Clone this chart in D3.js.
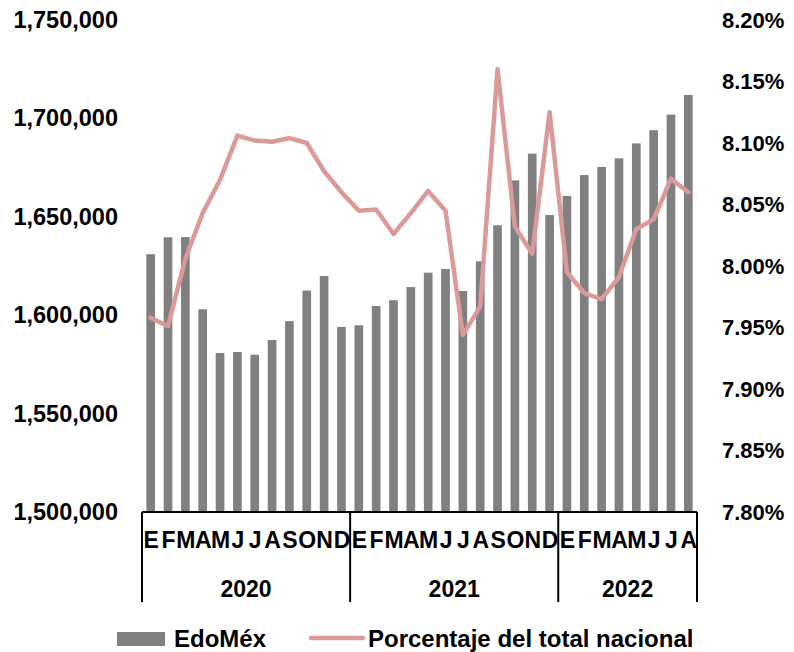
<!DOCTYPE html>
<html lang="es">
<head>
<meta charset="UTF-8">
<title>EdoMéx</title>
<style>
  * { margin: 0; padding: 0; }
  body { background: #fff; }
  svg text { font-family: "Liberation Sans", Arial, sans-serif; font-weight: bold; fill: #000; }
</style>
<script src="https://cdn.jsdelivr.net/npm/d3@7/dist/d3.min.js"></script>
</head>
<body>
<div id="chart"></div>
<script>
// data
var years = ['2020', '2021', '2022'];
var monthLetters = ['E', 'F', 'M', 'A', 'M', 'J', 'J', 'A', 'S', 'O', 'N', 'D'];
var monthsPerYear = [12, 12, 8];

var edomex = [
  1631000, 1639600, 1639700, 1603000, 1580800, 1581300, 1579900, 1587400, 1597000, 1612500, 1619900, 1594000,
  1594900, 1604700, 1607600, 1614300, 1621600, 1623500, 1612300, 1627400, 1645700, 1668500, 1682100, 1650900,
  1660600, 1671200, 1675300, 1679700, 1687300, 1694000, 1701900, 1711900
];
var porcentaje = [
  7.958, 7.951, 8.006, 8.043, 8.070, 8.106, 8.102, 8.101, 8.104, 8.100, 8.077, 8.060,
  8.045, 8.046, 8.026, 8.043, 8.061, 8.045, 7.944, 7.967, 8.160, 8.032, 8.010, 8.125,
  7.995, 7.978, 7.973, 7.991, 8.030, 8.038, 8.071, 8.060
];
var leftTicks = [1500000, 1550000, 1600000, 1650000, 1700000, 1750000];
var rightTicks = [7.80, 7.85, 7.90, 7.95, 8.00, 8.05, 8.10, 8.15, 8.20];

var w = 794, h = 652;
var plotL = 142, plotR = 697, plotT = 20, plotB = 512;

var svg = d3.select('#chart').append('svg')
  .attr('width', w)
  .attr('height', h);

// build the category list (year + month)
var cats = [];
years.forEach(function (y, yi) {
  for (var m = 0; m < monthsPerYear[yi]; m++) {
    cats.push({ key: y + '-' + m, year: y, letter: monthLetters[m] });
  }
});

var x = d3.scaleBand()
  .domain(cats.map(function (d) { return d.key; }))
  .range([plotL, plotR])
  .paddingInner(0.5)
  .paddingOuter(0.25);

var yLeft = d3.scaleLinear().domain([1500000, 1750000]).range([plotB, plotT]);
var yRight = d3.scaleLinear().domain([7.80, 8.20]).range([plotB, plotT]);

// BARS
svg.selectAll('rect.bar')
  .data(cats)
  .enter()
  .append('rect')
  .attr('class', 'bar')
  .attr('x', function (d) { return x(d.key); })
  .attr('width', x.bandwidth())
  .attr('y', function (d, i) { return yLeft(edomex[i]); })
  .attr('height', function (d, i) { return plotB - yLeft(edomex[i]); })
  .attr('fill', '#808080');

// LINE
var line = d3.line()
  .x(function (d, i) { return x(cats[i].key) + x.bandwidth() / 2; })
  .y(function (d) { return yRight(d); });

svg.append('path')
  .datum(porcentaje)
  .attr('d', line)
  .attr('fill', 'none')
  .attr('stroke', '#da9a9a')
  .attr('stroke-width', 4.5)
  .attr('stroke-linejoin', 'round')
  .attr('stroke-linecap', 'round');

// LEFT AXIS (labels only)
var fmtLeft = d3.format(',');
var yAxisL = d3.axisLeft(yLeft).tickValues(leftTicks).tickFormat(fmtLeft).tickSize(0).tickPadding(24);
svg.append('g')
  .attr('transform', 'translate(' + plotL + ',0)')
  .call(yAxisL)
  .call(function (g) { g.select('.domain').remove(); })
  .selectAll('text')
  .style('font-size', '23.5px')
  .style('font-family', '"Liberation Sans", Arial, sans-serif')
  .style('font-weight', 'bold')
  .attr('fill', '#000');

// RIGHT AXIS (labels only)
var fmtRight = function (d) { return d.toFixed(2) + '%'; };
var yAxisR = d3.axisRight(yRight).tickValues(rightTicks).tickFormat(fmtRight).tickSize(0).tickPadding(25);
svg.append('g')
  .attr('transform', 'translate(' + plotR + ',0)')
  .call(yAxisR)
  .call(function (g) { g.select('.domain').remove(); })
  .selectAll('text')
  .style('font-size', '22px')
  .style('font-family', '"Liberation Sans", Arial, sans-serif')
  .style('font-weight', 'bold')
  .attr('fill', '#000');

// CATEGORY AXIS
var xAxis = d3.axisBottom(x)
  .tickFormat(function (k, i) { return cats[i].letter; })
  .tickSize(0)
  .tickPadding(20);
var gx = svg.append('g')
  .attr('transform', 'translate(0,' + plotB + ')')
  .call(xAxis);
gx.select('.domain').remove();
gx.selectAll('text')
  .style('font-size', '23px')
  .style('font-family', '"Liberation Sans", Arial, sans-serif')
  .style('font-weight', 'bold')
  .style('letter-spacing', '-1px')
  .attr('fill', '#000');

svg.append('line')
  .attr('x1', plotL).attr('x2', plotR)
  .attr('y1', plotB).attr('y2', plotB)
  .attr('stroke', '#000').attr('stroke-width', 2);

// year separators and labels
var start = 0;
var bounds = [];
years.forEach(function (y, yi) {
  var first = cats[start].key;
  var last = cats[start + monthsPerYear[yi] - 1].key;
  var x0 = x(first) - x.step() * x.paddingInner() / 2;
  var x1 = x(last) + x.bandwidth() + x.step() * x.paddingInner() / 2;
  bounds.push({ year: y, x0: x0, x1: x1 });
  start += monthsPerYear[yi];
});
bounds[0].x0 = plotL;
bounds[bounds.length - 1].x1 = plotR;

var seps = [plotL].concat(bounds.map(function (b) { return b.x1; }));
svg.selectAll('line.sep')
  .data(seps)
  .enter()
  .append('line')
  .attr('class', 'sep')
  .attr('x1', function (d) { return d; })
  .attr('x2', function (d) { return d; })
  .attr('y1', plotB)
  .attr('y2', 602)
  .attr('stroke', '#000')
  .attr('stroke-width', 2);

svg.selectAll('text.year')
  .data(bounds)
  .enter()
  .append('text')
  .attr('class', 'year')
  .attr('x', function (d) { return (d.x0 + d.x1) / 2; })
  .attr('y', 597)
  .attr('text-anchor', 'middle')
  .style('font-size', '23px')
  .text(function (d) { return d.year; });

// LEGEND
var legend = svg.append('g');
legend.append('rect')
  .attr('x', 117).attr('y', 632)
  .attr('width', 48).attr('height', 14)
  .attr('fill', '#808080');
legend.append('text')
  .attr('x', 174).attr('y', 647)
  .style('font-size', '24px')
  .text('EdoMéx');
legend.append('line')
  .attr('x1', 311).attr('x2', 363)
  .attr('y1', 638).attr('y2', 638)
  .attr('stroke', '#da9a9a')
  .attr('stroke-width', 4.5)
  .attr('stroke-linecap', 'round');
legend.append('text')
  .attr('x', 368).attr('y', 647)
  .style('font-size', '24px')
  .text('Porcentaje del total nacional');
</script>
</body>
</html>
